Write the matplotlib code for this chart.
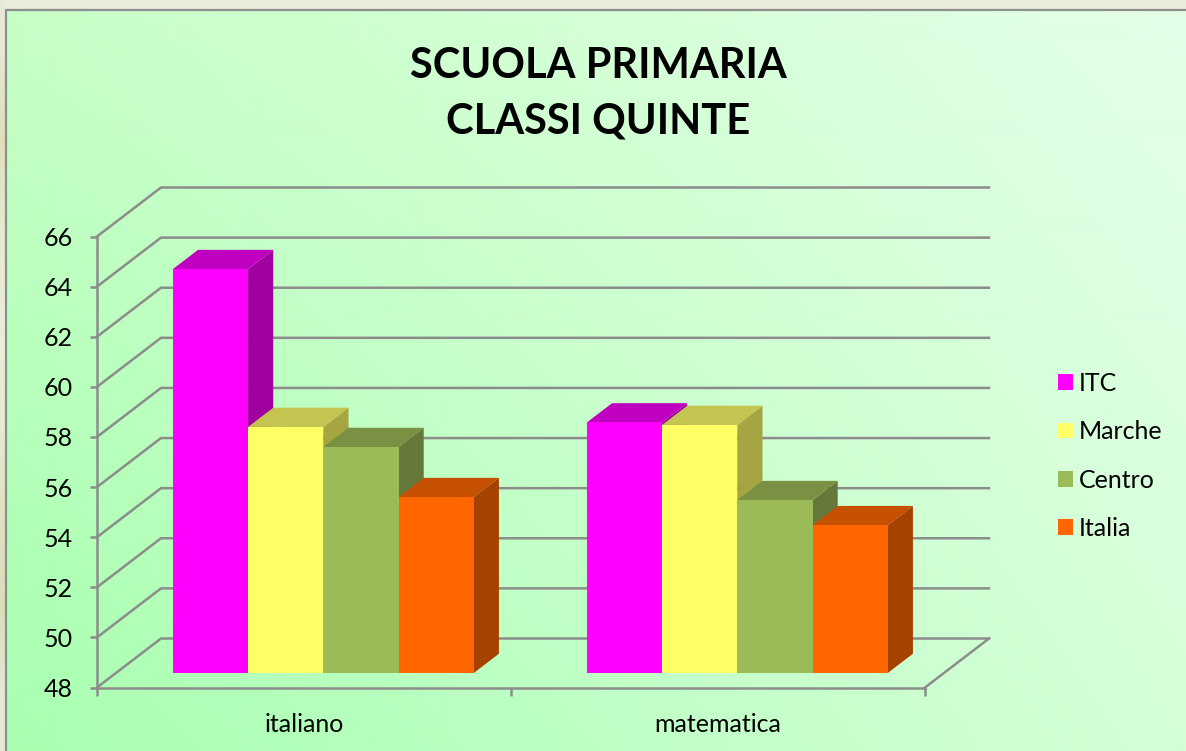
import numpy as np
import matplotlib
matplotlib.use("Agg")
import matplotlib.pyplot as plt
from matplotlib.colors import to_rgb
from matplotlib.patches import Patch, Polygon

categories = ["italiano", "matematica"]
series_names = ["ITC", "Marche", "Centro", "Italia"]
itc = [64.12, 58.0]
marche = [57.82, 57.9]
centro = [57.02, 54.9]
italia = [55.02, 53.9]
series_values = [itc, marche, centro, italia]
y_ticks = list(range(48, 67, 2))

front_cols = ["#ff00ff", "#ffff66", "#9bbb59", "#ff6600"]
top_cols = ["#c000c0", "#c4c450", "#7a9144", "#c45000"]
side_cols = ["#a0009f", "#a5a542", "#66783a", "#a64200"]
GREY = "#8c8c8c"
LW = 1.8
FONT = "Lato"
FS = 18
W, H = 1186, 751
plt.rcParams["font.family"] = [FONT, "DejaVu Sans"]

fig = plt.figure(figsize=(W / 100, H / 100), dpi=100)
fig.patch.set_facecolor("#e8ecd8")

# background gradient panel
bg = fig.add_axes([0, 0, 1, 1], zorder=0)
bg.axis("off")
tl, tr = np.array([198, 255, 198]), np.array([228, 255, 232])
bl, br = np.array([168, 255, 176]), np.array([212, 255, 216])
u = np.linspace(0, 1, 200)[None, :, None]
v = np.linspace(0, 1, 130)[:, None, None]
grad = ((1 - v) * ((1 - u) * tl + u * tr) + v * ((1 - u) * bl + u * br)) / 255
bg.imshow(grad, extent=[6, W, H, 10], aspect="auto", interpolation="bilinear", zorder=1)
band = ["#e6e9d6", "#dee0b8", "#e6ead0", "#e9eedb", "#e6ebd2", "#dde2bf", "#d8dfb8", "#e5ead8"]
band_img = np.array([[to_rgb(c)] for c in band])
bg.imshow(band_img, extent=[0, 5, H, 0], aspect="auto", interpolation="bilinear", zorder=1)
bg.set_xlim(0, W); bg.set_ylim(H, 0)
bg.plot([5.5, 5.5, W], [H, 9.5, 9.5], color="#8f8f8f", lw=1.6, zorder=2)

# chart plane: value axis and category axis on the front face of the 3D box
left, right, bottom, top = 97, 925, 687.5, 236.5
ax = fig.add_axes([left / W, 1 - bottom / H, (right - left) / W, (bottom - top) / H], zorder=1)
ax.set_xlim(0, len(categories))
ax.set_ylim(y_ticks[0], y_ticks[-1])
ax.patch.set_alpha(0)
for s in ("top", "right"):
    ax.spines[s].set_visible(False)
for s in ("left", "bottom"):
    ax.spines[s].set_color(GREY)
    ax.spines[s].set_linewidth(LW)

px_x = len(categories) / (right - left)
px_y = (y_ticks[-1] - y_ticks[0]) / (bottom - top)
box_dx, box_dy = 64 * px_x, 49 * px_y   # depth of the box in data units
y0 = y_ticks[0]

# walls and floor
for t in y_ticks:
    ax.plot([0, box_dx, 2 + box_dx], [t, t + box_dy, t + box_dy], color=GREY, lw=LW,
            clip_on=False, zorder=1, solid_joinstyle="miter")
ax.plot([2, 2 + box_dx], [y0, y0 + box_dy], color=GREY, lw=LW, clip_on=False, zorder=1)

# bars
bar_w = 0.1817
f0, f1 = 0.302, 0.695
for s, vals in enumerate(series_values):
    for c, val in enumerate(vals):
        xl = c + 0.5 + (s - 2) * bar_w + f0 * box_dx
        xr = xl + bar_w
        yb = y0 + 0.296 * box_dy
        yt = yb + (val - y0)
        ddx, ddy = (f1 - f0) * box_dx, (f1 - f0) * box_dy
        z = 3 + s
        ax.add_patch(Polygon([(xr, yb), (xr + ddx, yb + ddy), (xr + ddx, yt + ddy), (xr, yt)],
                             fc=side_cols[s], ec="none", clip_on=False, zorder=z))
        ax.add_patch(Polygon([(xl, yt), (xl + ddx, yt + ddy), (xr + ddx, yt + ddy), (xr, yt)],
                             fc=top_cols[s], ec="none", clip_on=False, zorder=z))
        ax.bar(xl, val - y0, width=bar_w, bottom=yb, align="edge", color=front_cols[s],
               clip_on=False, zorder=z + 0.5)

# ticks
ax.set_yticks(y_ticks)
ax.tick_params(axis="y", length=5.2, width=LW, color=GREY, pad=12, labelsize=FS, labelcolor="black")
ax.set_xticks(range(len(categories) + 1))
ax.set_xticklabels([""] * (len(categories) + 1))
ax.tick_params(axis="x", which="major", length=5.6, width=LW, color=GREY)
ax.set_xticks(np.arange(len(categories)) + 0.5, minor=True)
ax.set_xticklabels(categories, minor=True)
ax.tick_params(axis="x", which="minor", length=0, pad=18.5, labelsize=FS, labelcolor="black")

# legend
handles = [Patch(fc=c, ec="none") for c in front_cols]
fig.legend(handles, series_names, loc="upper left", bbox_to_anchor=(1058 / W, 1 - 372 / H),
           frameon=False, fontsize=FS, handlelength=0.6, handleheight=0.6,
           handletextpad=0.24, labelspacing=1.01, borderpad=0, borderaxespad=0)

# title
fig.text(598 / W, 1 - 93.5 / H, "SCUOLA PRIMARIA\nCLASSI QUINTE", ha="center", va="center",
         fontsize=30, fontweight="bold", color="black", linespacing=1.58, zorder=5)

fig.savefig("out.png", dpi=100)
